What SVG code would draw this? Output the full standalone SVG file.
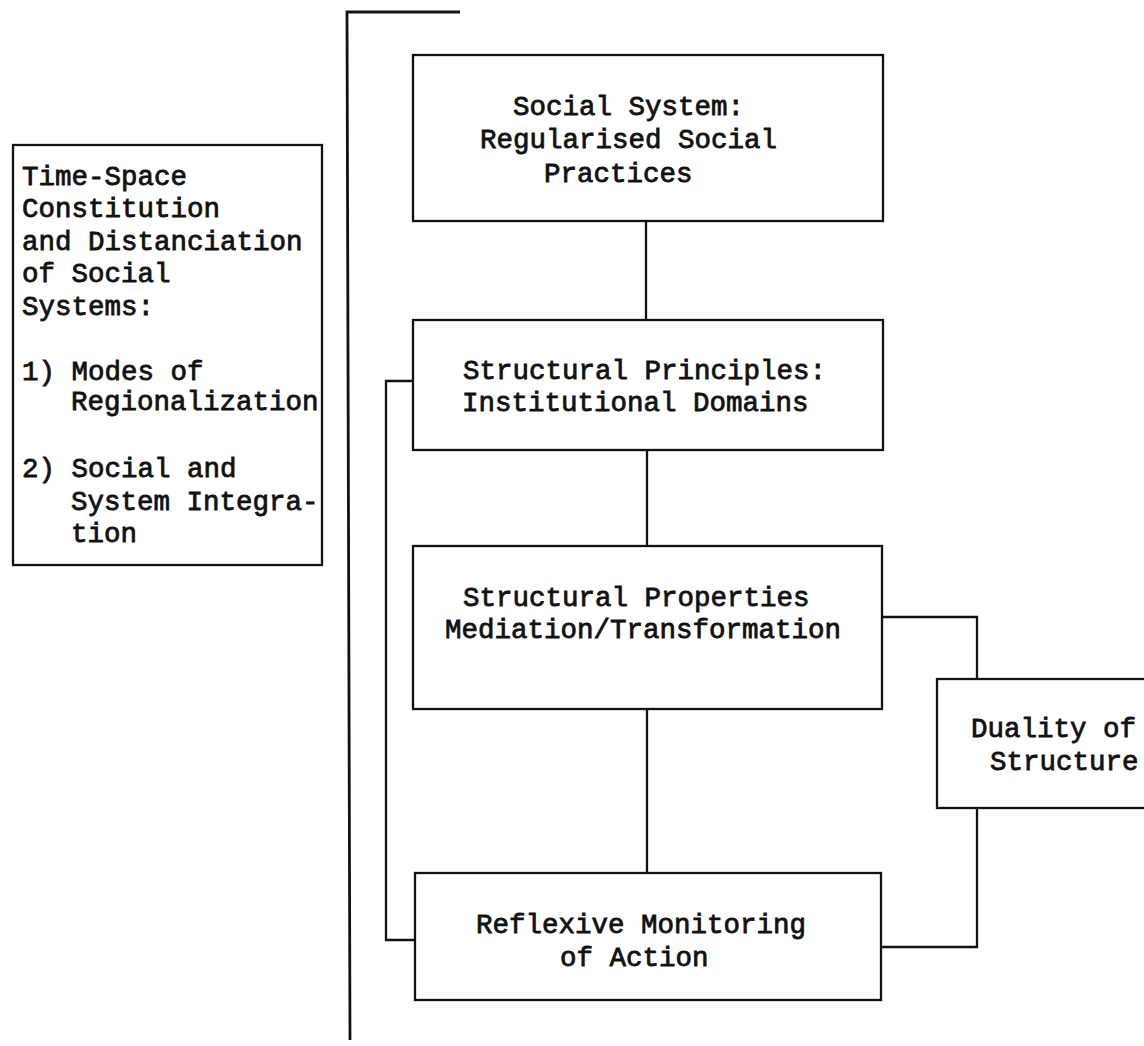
<svg xmlns="http://www.w3.org/2000/svg" width="1144" height="1046" viewBox="0 0 1144 1046">
<style>
.box{fill:none;stroke:#111;stroke-width:2.3}
.ln{fill:none;stroke:#111;stroke-width:2.3}
.main{fill:none;stroke:#111;stroke-width:2.8}
text{font-family:"Liberation Mono","Courier New",monospace;font-size:27.5px;fill:#111;stroke:#111;stroke-width:0.8}
</style>
<rect width="1144" height="1046" fill="#fff"/>
<g id="connectors">
<polyline class="main" points="460,12 347,12 350,1040"/>
<line class="ln" x1="646" y1="221" x2="646" y2="320"/>
<line class="ln" x1="647" y1="450" x2="647" y2="546"/>
<line class="ln" x1="647" y1="709" x2="647" y2="873"/>
<polyline class="ln" points="413,381 386,381 386,940 415,940"/>
<polyline class="ln" points="882,617 977,617 977,679"/>
<polyline class="ln" points="977,808 977,947 881,947"/>
</g>
<g id="timespace">
<rect class="box" x="13" y="145" width="309" height="420"/>
<text x="22" y="184.5">Time-Space</text>
<text x="22" y="217">Constitution</text>
<text x="22" y="249.5">and Distanciation</text>
<text x="22" y="282">of Social</text>
<text x="22" y="314.5">Systems:</text>
<text x="22" y="379.5">1) Modes of</text>
<text x="71" y="410">Regionalization</text>
<text x="22" y="477">2) Social and</text>
<text x="71" y="509.5">System Integra-</text>
<text x="71" y="542">tion</text>
</g>
<g id="social-system">
<rect class="box" x="413" y="55" width="470" height="166"/>
<text x="513" y="115">Social System:</text>
<text x="480" y="148">Regularised Social</text>
<text x="544" y="182">Practices</text>
</g>
<g id="structural-principles">
<rect class="box" x="413" y="320" width="470" height="130"/>
<text x="463" y="379">Structural Principles:</text>
<text x="462" y="411">Institutional Domains</text>
</g>
<g id="structural-properties">
<rect class="box" x="413" y="546" width="469" height="163"/>
<text x="463" y="606">Structural Properties</text>
<text x="445" y="638">Mediation/Transformation</text>
</g>
<g id="reflexive-monitoring">
<rect class="box" x="415" y="873" width="466" height="127"/>
<text x="476" y="933">Reflexive Monitoring</text>
<text x="560" y="966">of Action</text>
</g>
<g id="duality">
<rect class="box" x="937" y="679" width="230" height="129"/>
<text x="971" y="737">Duality of</text>
<text x="990" y="770">Structure</text>
</g>
</svg>
